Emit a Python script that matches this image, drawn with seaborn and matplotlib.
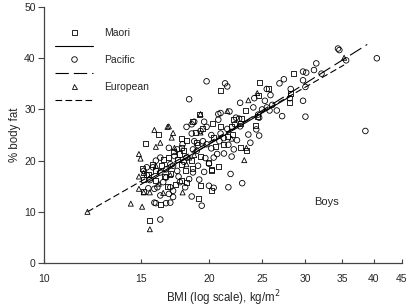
import matplotlib
matplotlib.use("Agg")
import matplotlib.pyplot as plt
import seaborn as sns
from matplotlib.lines import Line2D
from matplotlib.ticker import FixedLocator, FixedFormatter, NullLocator

# Maori (squares)
maori_bmi = [15.6, 16.3, 19.1, 15.2, 15.2, 16.0, 17.4, 17.8, 18.2, 20.2, 19.3, 15.1, 15.8, 16.0,
             16.5, 17.2, 16.9, 17.8, 18.1, 18.7, 18.6, 17.7, 19.3, 18.0, 17.8, 15.3, 16.2, 18.2,
             17.8, 18.9, 19.5, 20.4, 21.0, 22.1, 22.0, 21.3, 20.8, 20.0, 20.2, 20.2, 18.7, 20.3,
             22.2, 22.8, 22.9, 19.2, 21.0, 23.3, 24.5, 24.3, 23.4, 22.8, 24.6, 24.7, 25.7, 28.5,
             28.2, 28.1, 16.6, 17.0, 16.4, 17.5, 19.0, 20.6, 21.6, 15.5, 16.8]
maori_fat = [8.3, 11.4, 12.7, 14.0, 16.4, 16.1, 15.3, 16.1, 15.8, 14.1, 15.1, 18.5, 19.3, 18.0,
             20.3, 21.8, 20.6, 19.3, 18.0, 18.5, 20.0, 21.3, 20.9, 21.9, 22.5, 23.3, 25.1, 24.0,
             24.4, 25.5, 26.3, 24.6, 26.6, 25.1, 26.7, 23.1, 18.8, 19.6, 18.0, 18.3, 27.6, 27.2,
             28.0, 27.3, 28.2, 29.0, 33.7, 29.8, 28.7, 26.9, 21.9, 22.5, 32.8, 35.2, 34.0, 37.0,
             33.1, 31.3, 17.0, 17.4, 19.0, 20.2, 23.5, 22.8, 24.8, 17.3, 15.0]

# Pacific (circles)
pacific_bmi = [34.4, 34.6, 35.6, 40.5, 38.6, 31.4, 31.1, 32.1, 29.7, 30.1, 29.7, 27.4, 26.9, 30.0,
               28.2, 28.1, 29.7, 30.0, 27.2, 26.6, 25.5, 25.9, 24.2, 25.3, 26.1, 25.5, 25.8, 25.0,
               24.1, 24.7, 24.6, 22.8, 22.7, 22.4, 22.8, 24.4, 23.6, 24.7, 23.8, 23.0, 21.7, 20.4,
               20.0, 19.4, 18.6, 19.2, 19.8, 21.4, 21.6, 18.4, 21.0, 21.8, 20.8, 18.6, 18.8, 18.2,
               19.6, 20.8, 19.8, 21.6, 22.3, 19.3, 18.6, 20.2, 21.0, 21.3, 21.7, 22.2, 21.3, 20.7,
               20.4, 20.0, 19.7, 20.2, 19.8, 19.5, 19.1, 18.8, 17.9, 17.5, 16.9, 16.3, 15.2, 15.4,
               15.8, 16.3, 15.4, 15.6, 16.7, 16.5, 15.5, 15.9, 16.1, 16.3, 16.9, 17.0, 16.0, 15.9,
               16.7, 17.0, 16.3, 17.2, 17.2, 17.7, 18.1, 18.4, 18.7, 19.1, 18.2, 17.2, 17.0, 17.5,
               16.7, 18.7, 19.0, 21.9, 22.5, 17.3, 18.0, 16.0, 19.6, 20.9, 22.0, 17.6]
pacific_fat = [41.9, 41.6, 39.6, 40.0, 25.8, 39.0, 37.7, 37.0, 37.4, 37.2, 35.7, 35.9, 35.1, 34.4,
               34.0, 32.2, 31.7, 28.6, 28.7, 29.8, 34.0, 32.8, 32.2, 31.7, 30.9, 30.4, 29.8, 30.0,
               30.4, 28.4, 29.0, 31.3, 28.2, 28.4, 26.7, 26.1, 25.1, 24.9, 23.5, 15.6, 14.8, 14.7,
               15.1, 11.2, 13.0, 16.3, 35.5, 35.1, 34.5, 32.0, 29.3, 29.6, 29.1, 27.1, 27.6, 26.6,
               27.6, 28.0, 26.6, 26.2, 27.1, 25.8, 25.3, 25.0, 25.3, 24.4, 23.1, 22.2, 21.4, 21.3,
               20.6, 19.4, 20.5, 22.4, 23.2, 23.8, 23.0, 23.8, 23.2, 22.2, 22.5, 20.6, 18.0, 18.7,
               18.7, 17.7, 17.2, 16.2, 16.7, 15.8, 14.6, 14.5, 14.8, 13.2, 13.5, 14.8, 11.7, 11.8,
               11.7, 11.8, 8.5, 12.9, 14.1, 15.8, 14.8, 16.4, 17.7, 19.0, 20.6, 19.0, 19.3, 18.0,
               18.3, 22.2, 21.9, 17.4, 24.0, 20.9, 19.8, 20.0, 17.8, 23.8, 20.8, 16.9]

# European (triangles)
european_bmi = [12.0, 14.4, 15.1, 15.6, 35.3, 23.6, 24.5, 23.2, 23.4, 15.9, 16.0, 16.3, 16.8, 16.9,
                17.2, 17.1, 17.3, 14.9, 15.0, 16.0, 14.9, 15.2, 14.9, 15.2, 15.6, 16.5, 17.9, 18.2,
                18.8, 19.3, 19.3, 21.6, 22.0, 17.0, 18.4, 16.2]
european_fat = [10.0, 11.6, 11.0, 6.6, 40.1, 31.8, 33.2, 20.1, 22.5, 26.0, 22.7, 23.5, 26.6, 26.7,
                25.4, 24.5, 22.5, 21.3, 20.4, 19.0, 16.9, 17.6, 14.5, 13.8, 13.8, 13.7, 13.8, 19.3,
                21.1, 29.1, 25.5, 29.7, 24.3, 17.2, 20.6, 15.5]

# fitted lines (end points), straight on a log x axis
maori_line_bmi = [15.0, 28.2]
maori_line_fat = [15.3, 32.6]
pacific_line_bmi = [15.5, 38.9]
pacific_line_fat = [15.8, 42.7]
european_line_bmi = [12.0, 35.3]
european_line_fat = [10.0, 38.7]

x_ticks = [10, 15, 20, 25, 30, 35, 40, 45]
y_ticks = [0, 10, 20, 30, 40, 50]

sns.set_style("white")
plt.rcParams['font.family'] = ['Liberation Sans', 'DejaVu Sans']
plt.rcParams['font.size'] = 7.5

fig = plt.figure(figsize=(4.08, 3.08), dpi=100)
ax = fig.add_axes([0.108, 0.146, 0.877, 0.831])

lw = 0.8
sns.lineplot(x=maori_line_bmi, y=maori_line_fat, color='black', lw=lw, ax=ax)
sns.lineplot(x=pacific_line_bmi, y=pacific_line_fat, color='black', lw=lw, ax=ax).lines[-1].set_dashes((12, 4.5))
sns.lineplot(x=european_line_bmi, y=european_line_fat, color='black', lw=lw, ax=ax).lines[-1].set_dashes((6, 3))

pt_kw = dict(s=13, facecolor='none', edgecolor='black', linewidth=0.6, ax=ax, zorder=3)
sns.scatterplot(x=maori_bmi, y=maori_fat, marker='s', **pt_kw)
sns.scatterplot(x=pacific_bmi, y=pacific_fat, marker='o', s=16, facecolor='none',
                edgecolor='black', linewidth=0.6, ax=ax, zorder=3)
sns.scatterplot(x=european_bmi, y=european_fat, marker='^', **pt_kw)

ax.set_xscale('log')
ax.set_xlim(10, 45)
ax.set_ylim(0, 50)
ax.xaxis.set_major_locator(FixedLocator(x_ticks))
ax.xaxis.set_major_formatter(FixedFormatter([str(t) for t in x_ticks]))
ax.xaxis.set_minor_locator(NullLocator())
ax.set_yticks(y_ticks)

for s in ['top', 'right']:
    ax.spines[s].set_visible(False)
for s in ['left', 'bottom']:
    ax.spines[s].set_color('#444444')
    ax.spines[s].set_linewidth(0.9)
ax.tick_params(axis='x', direction='in', length=3, width=0.8, color='#444444', pad=8, labelsize=7.5)
ax.tick_params(axis='y', direction='out', length=4, width=0.8, color='#444444', pad=2, labelsize=7.5)
ax.tick_params(left=True, bottom=True)

ax.set_xlabel('BMI (log scale), kg/m$^2$', fontsize=8.3, labelpad=3)
ax.set_ylabel('% body fat', fontsize=8.3, labelpad=2)
ax.text(32.8, 11.9, 'Boys', ha='center', va='center', fontsize=8)

handles = [
    Line2D([], [], ls='none', marker='s', ms=3.6, mfc='none', mec='black', mew=0.6),
    Line2D([], [], color='black', lw=lw),
    Line2D([], [], ls='none', marker='o', ms=4, mfc='none', mec='black', mew=0.6),
    Line2D([], [], color='black', lw=lw, dashes=(12, 4.5)),
    Line2D([], [], ls='none', marker='^', ms=3.6, mfc='none', mec='black', mew=0.6),
    Line2D([], [], color='black', lw=lw, dashes=(6, 3)),
]
labels = ['Maori', '', 'Pacific', '', 'European', '']
ax.legend(handles, labels, loc='upper left', bbox_to_anchor=(0.031, 0.92), frameon=False,
          borderpad=0, borderaxespad=0, handlelength=3.6, handletextpad=1.1,
          labelspacing=0.35, fontsize=7.5)

fig.savefig('out.png', dpi=100)
